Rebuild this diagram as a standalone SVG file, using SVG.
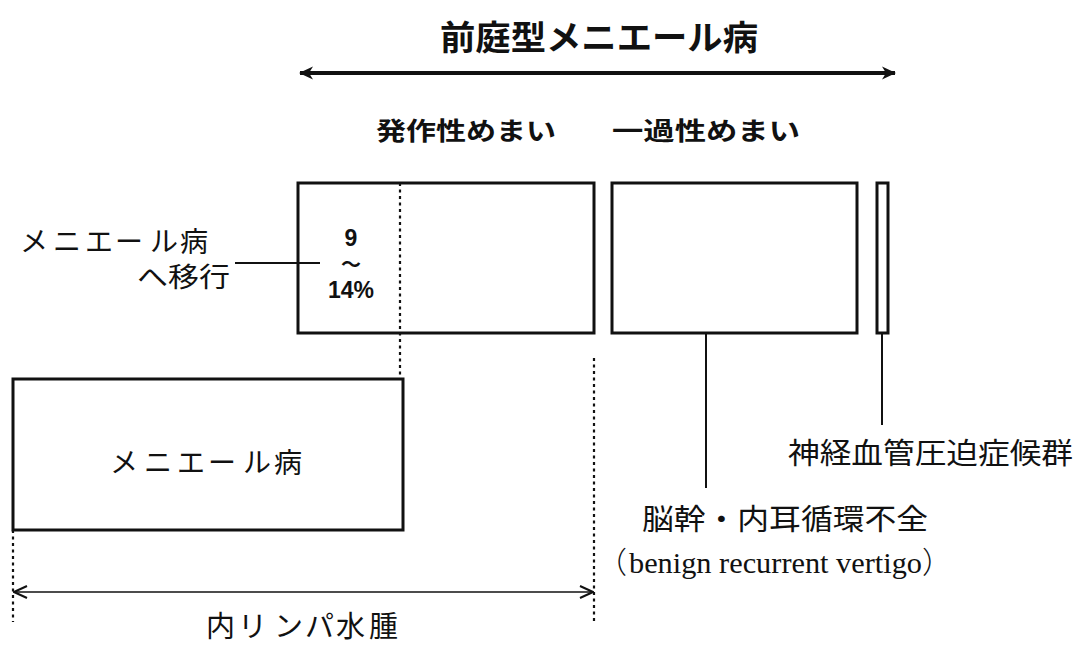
<svg xmlns="http://www.w3.org/2000/svg" width="1086" height="647" viewBox="0 0 1086 647">
<style>
.jp{font-family:"Noto Sans CJK JP","Noto Sans",sans-serif;fill:#111;}
.num{font-family:"Liberation Sans","Noto Sans CJK JP",sans-serif;fill:#111;font-weight:bold;}
.box{fill:none;stroke:#111;stroke-width:3;}
.ln{stroke:#111;fill:none;}
.dot{stroke:#111;stroke-width:2.2;stroke-dasharray:3 3.5;fill:none;}
</style>
<defs>
<marker id="fa" viewBox="0 0 14 14" refX="13" refY="7" markerWidth="14" markerHeight="14" orient="auto-start-reverse" markerUnits="userSpaceOnUse">
<path d="M0,0.5 L14,7 L0,13.5 L4,7 Z" fill="#111"/>
</marker>
<marker id="oa" viewBox="0 0 15 14" refX="14" refY="7" markerWidth="15" markerHeight="14" orient="auto-start-reverse" markerUnits="userSpaceOnUse">
<path d="M1,1 L14,7 L1,13" fill="none" stroke="#111" stroke-width="2"/>
</marker>
</defs>
<rect width="1086" height="647" fill="#fff"/>
<g id="title">
<text class="jp" x="599" y="50" font-size="34" font-weight="bold" text-anchor="middle" textLength="318" lengthAdjust="spacingAndGlyphs">前庭型メニエール病</text>
</g>
<g id="connectors">
<line class="ln" x1="300" y1="73" x2="895" y2="73" style="stroke-width:4" marker-start="url(#fa)" marker-end="url(#fa)"/>
<line class="dot" x1="400" y1="183" x2="400" y2="379"/>
<line class="ln" style="stroke-width:2" x1="235" y1="263" x2="320" y2="263"/>
<line class="dot" x1="13" y1="530" x2="13" y2="622"/>
<line class="dot" x1="594" y1="358" x2="594" y2="622"/>
<line class="ln" style="stroke-width:1.5" x1="14" y1="592" x2="593" y2="592" marker-start="url(#oa)" marker-end="url(#oa)"/>
<line class="ln" style="stroke-width:2" x1="706" y1="334" x2="706" y2="488"/>
<line class="ln" style="stroke-width:2" x1="882" y1="334" x2="882" y2="425"/>
</g>
<g id="paroxysmal">
<text class="jp" x="466" y="140" font-size="25" font-weight="bold" text-anchor="middle" textLength="180" lengthAdjust="spacingAndGlyphs">発作性めまい</text>
<rect class="box" x="298" y="183" width="296" height="150"/>
<text class="num" x="351" y="246" font-size="23" text-anchor="middle">9</text>
<text class="jp" x="351" y="272" font-size="20" font-weight="bold" text-anchor="middle">～</text>
<text class="num" x="351" y="298" font-size="23" text-anchor="middle">14%</text>
</g>
<g id="transient">
<text class="jp" x="706" y="140" font-size="25" font-weight="bold" text-anchor="middle" textLength="188" lengthAdjust="spacingAndGlyphs">一過性めまい</text>
<rect class="box" x="612" y="183" width="245" height="150"/>
</g>
<g id="thin">
<rect class="box" x="877" y="183" width="11" height="150"/>
</g>
<g id="transition">
<text class="jp" x="20 53 85 115 150 180" y="252" font-size="28">メニエール病</text>
<text class="jp" x="137" y="287" font-size="27" textLength="93" lengthAdjust="spacingAndGlyphs">へ移行</text>
</g>
<g id="meniere">
<rect class="box" x="13" y="379" width="390" height="151"/>
<text class="jp" x="110 144 177 208 243 274" y="473" font-size="28">メニエール病</text>
</g>
<g id="hydrops">
<text class="jp" x="206 238 274 305 336 369" y="637" font-size="29">内リンパ水腫</text>
</g>
<g id="neurovascular">
<text class="jp" x="788" y="464" font-size="29" textLength="285" lengthAdjust="spacingAndGlyphs">神経血管圧迫症候群</text>
</g>
<g id="brainstem">
<text class="jp" x="642" y="530" font-size="29" textLength="286" lengthAdjust="spacingAndGlyphs">脳幹・内耳循環不全</text>
<text y="573" font-size="30" font-family="'Liberation Serif','Noto Sans CJK JP',serif" fill="#111"><tspan x="597" font-family="'Noto Sans CJK JP',sans-serif" font-weight="300">（</tspan><tspan x="629" textLength="293" lengthAdjust="spacingAndGlyphs">benign recurrent vertigo</tspan><tspan x="922" font-family="'Noto Sans CJK JP',sans-serif" font-weight="300">）</tspan></text>
</g>
</svg>
